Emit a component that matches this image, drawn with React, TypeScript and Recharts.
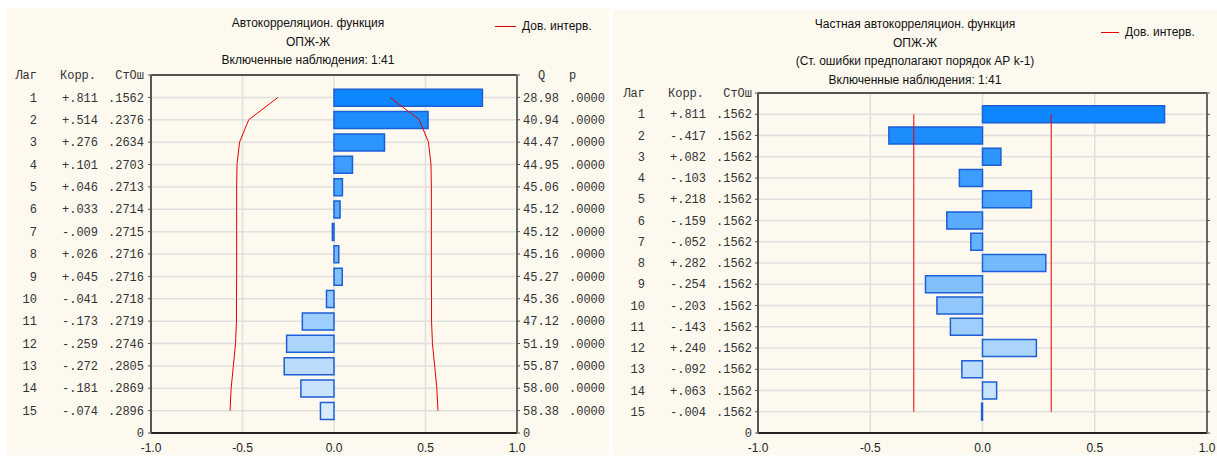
import React from 'react';
import { ComposedChart, Bar, Line, XAxis, YAxis, CartesianGrid, Cell, ReferenceLine } from 'recharts';

// lags shown in both tables
const lags = [1, 2, 3, 4, 5, 6, 7, 8, 9, 10, 11, 12, 13, 14, 15];

// autocorrelation (left panel)
const acfCorr = [0.811, 0.514, 0.276, 0.101, 0.046, 0.033, -0.009, 0.026, 0.045, -0.041, -0.173, -0.259, -0.272, -0.181, -0.074];
const acfSE = [0.1562, 0.2376, 0.2634, 0.2703, 0.2713, 0.2714, 0.2715, 0.2716, 0.2716, 0.2718, 0.2719, 0.2746, 0.2805, 0.2869, 0.2896];
const acfQ = [28.98, 40.94, 44.47, 44.95, 45.06, 45.12, 45.12, 45.16, 45.27, 45.36, 47.12, 51.19, 55.87, 58.0, 58.38];
const acfP = [0, 0, 0, 0, 0, 0, 0, 0, 0, 0, 0, 0, 0, 0, 0];
const acfCI = [0.306, 0.466, 0.516, 0.53, 0.532, 0.532, 0.532, 0.532, 0.532, 0.533, 0.533, 0.538, 0.55, 0.562, 0.568];

// partial autocorrelation (right panel)
const pacfCorr = [0.811, -0.417, 0.082, -0.103, 0.218, -0.159, -0.052, 0.282, -0.254, -0.203, -0.143, 0.24, -0.092, 0.063, -0.004];
const pacfSE = [0.1562, 0.1562, 0.1562, 0.1562, 0.1562, 0.1562, 0.1562, 0.1562, 0.1562, 0.1562, 0.1562, 0.1562, 0.1562, 0.1562, 0.1562];
const pacfCI = [0.306, 0.306, 0.306, 0.306, 0.306, 0.306, 0.306, 0.306, 0.306, 0.306, 0.306, 0.306, 0.306, 0.306, 0.306];

const X_TICKS = [-1, -0.5, 0, 0.5, 1];
const Y_TICKS = [0, 1, 2, 3, 4, 5, 6, 7, 8, 9, 10, 11, 12, 13, 14, 15, 16];
const TOP = 16;

const BAR_FILLS = ['#0d86ff', '#1d8dfe', '#2d95fe', '#3d9dfe', '#4ba4fd', '#58abfd', '#66b2fd', '#74b9fc', '#82c0fc', '#90c7fc', '#9ecefc', '#acd5fc', '#bbdcfc', '#c9e3fd', '#d8ebfe'];
const BAR_STROKE = '#1c5fd6';
const CREAM = '#fdf9ef';
const MONO = { fontFamily: '"Liberation Mono", monospace', fontSize: 12, fill: '#333' };
const SANS = '"Liberation Sans", Arial, sans-serif';

const fmtCorr = (v: number) => (v < 0 ? '-' : '+') + Math.abs(v).toFixed(3).slice(1);
const fmt4 = (v: number) => v.toFixed(4).slice(1);

const buildRows = (corr: number[], ci: number[]) =>
  lags.map((lag, i) => ({ pos: TOP - lag, lag, corr: corr[i], ciHi: ci[i], ciLo: -ci[i] }));

const acfRows = buildRows(acfCorr, acfCI);
const pacfRows = buildRows(pacfCorr, pacfCI);

function LagTick(props: any) {
  const { x, y, payload, corr, se } = props;
  const pos = Math.round(payload.value);
  if (pos === TOP) {
    return (
      <g>
        <text x={x - 107} y={y} dy="0.35em" textAnchor="end" {...MONO}>Лаг</text>
        <text x={x - 48} y={y} dy="0.35em" textAnchor="end" {...MONO}>Корр.</text>
        <text x={x} y={y} dy="0.35em" textAnchor="end" {...MONO}>СтОш</text>
      </g>
    );
  }
  if (pos === 0) {
    return <text x={x} y={y} dy="0.35em" textAnchor="end" {...MONO}>0</text>;
  }
  const i = TOP - pos - 1;
  return (
    <g>
      <text x={x - 107} y={y} dy="0.35em" textAnchor="end" {...MONO}>{lags[i]}</text>
      <text x={x - 46} y={y} dy="0.35em" textAnchor="end" {...MONO}>{fmtCorr(corr[i])}</text>
      <text x={x} y={y} dy="0.35em" textAnchor="end" {...MONO}>{fmt4(se[i])}</text>
    </g>
  );
}

function QTick(props: any) {
  const { x, y, payload } = props;
  const pos = Math.round(payload.value);
  if (pos === TOP) {
    return (
      <g>
        <text x={x + 15} y={y} dy="0.35em" {...MONO}>Q</text>
        <text x={x + 46} y={y} dy="0.35em" {...MONO}>p</text>
      </g>
    );
  }
  if (pos === 0) {
    return <text x={x} y={y} dy="0.35em" {...MONO}>0</text>;
  }
  const i = TOP - pos - 1;
  return (
    <g>
      <text x={x} y={y} dy="0.35em" {...MONO}>{acfQ[i].toFixed(2)}</text>
      <text x={x + 46} y={y} dy="0.35em" {...MONO}>{fmt4(acfP[i])}</text>
    </g>
  );
}

function Titles({ lines, tops }: { lines: string[]; tops: number[] }) {
  return (
    <>
      {lines.map((t, i) => (
        <div
          key={i}
          style={{
            position: 'absolute', left: 0, right: 0, top: tops[i] - 7, height: 14, lineHeight: '14px',
            textAlign: 'center', fontFamily: SANS, fontSize: 12, color: '#111',
          }}
        >
          {t}
        </div>
      ))}
    </>
  );
}

function Legend({ x, y, len }: { x: number; y: number; len: number }) {
  return (
    <div style={{ position: 'absolute', left: x, top: y - 7, height: 14, display: 'flex', alignItems: 'center' }}>
      <div style={{ width: len, height: 1, background: '#e00000', marginRight: 6 }} />
      <span style={{ fontFamily: SANS, fontSize: 12, color: '#111', lineHeight: '14px' }}>Дов. интерв.</span>
    </div>
  );
}

function CorrChart(props: {
  rows: any[]; corr: number[]; se: number[]; width: number; height: number;
  top: number; leftW: number; rightW: number; withQ: boolean; tickMargin: number;
}) {
  const { rows, corr, se, width, height, top, leftW, rightW, withQ, tickMargin } = props;
  return (
    <ComposedChart
      layout="vertical"
      width={width}
      height={height}
      data={rows}
      margin={{ top, right: 0, bottom: 0, left: 0 }}
    >
      <CartesianGrid yAxisId="left" stroke="#e0e0e0" strokeWidth={1.5} />
      <XAxis
        type="number"
        domain={[-1, 1]}
        ticks={X_TICKS}
        interval={0}
        tickFormatter={(v: number) => v.toFixed(1)}
        height={22}
        tickLine={false}
        tickSize={8}
        tickMargin={2}
        axisLine={{ stroke: '#222', strokeWidth: 2 }}
        tick={{ fontFamily: SANS, fontSize: 12, fill: '#222' }}
      />
      <YAxis
        yAxisId="left"
        type="number"
        dataKey="pos"
        domain={[0, TOP]}
        ticks={Y_TICKS}
        interval={0}
        reversed
        width={leftW}
        tickSize={3}
        tickMargin={tickMargin}
        axisLine={{ stroke: '#555', strokeWidth: 2 }}
        tickLine={{ stroke: '#555' }}
        tick={(p: any) => <LagTick {...p} corr={corr} se={se} />}
      />
      <YAxis
        yAxisId="right"
        orientation="right"
        type="number"
        dataKey="pos"
        domain={[0, TOP]}
        ticks={Y_TICKS}
        interval={0}
        reversed
        width={rightW}
        tickSize={3}
        tickMargin={3}
        axisLine={{ stroke: '#666', strokeWidth: 2 }}
        tickLine={{ stroke: '#555' }}
        tick={withQ ? (p: any) => <QTick {...p} /> : () => <g />}
      />
      <ReferenceLine yAxisId="left" y={TOP} stroke="#222" strokeWidth={1.5} />
      <Bar yAxisId="left" dataKey="corr" barSize={17} isAnimationActive={false}>
        {rows.map((r, i) => (
          <Cell key={`c-${i}`} fill={BAR_FILLS[i]} stroke={BAR_STROKE} strokeWidth={1.5} />
        ))}
      </Bar>
      <Line yAxisId="left" dataKey="ciHi" type="linear" stroke="#e80000" strokeWidth={1} dot={false} isAnimationActive={false} />
      <Line yAxisId="left" dataKey="ciLo" type="linear" stroke="#e80000" strokeWidth={1} dot={false} isAnimationActive={false} />
    </ComposedChart>
  );
}

export default function App() {
  return (
    <div style={{ position: 'absolute', left: 0, top: 0, width: 1217, height: 457, background: '#fff', overflow: 'hidden' }}>
      <div style={{ position: 'absolute', left: 7, top: 8, width: 602, height: 447, background: CREAM }}>
        <CorrChart
          rows={acfRows} corr={acfCorr} se={acfSE}
          width={602} height={447} top={67} leftW={144} rightW={92} withQ tickMargin={4}
        />
        <Titles
          lines={['Автокорреляцион. функция', 'ОПЖ-Ж', 'Включенные наблюдения: 1:41']}
          tops={[15, 34, 52]}
        />
        <Legend x={488} y={18} len={21} />
      </div>
      <div style={{ position: 'absolute', left: 613, top: 10, width: 604, height: 445, background: CREAM }}>
        <CorrChart
          rows={pacfRows} corr={pacfCorr} se={pacfSE}
          width={604} height={445} top={83} leftW={145} rightW={10} withQ={false} tickMargin={3}
        />
        <Titles
          lines={['Частная автокорреляцион. функция', 'ОПЖ-Ж', '(Ст. ошибки предполагают порядок АР k-1)', 'Включенные наблюдения: 1:41']}
          tops={[14, 32.5, 51, 69.5]}
        />
        <Legend x={488} y={22} len={18} />
      </div>
    </div>
  );
}
